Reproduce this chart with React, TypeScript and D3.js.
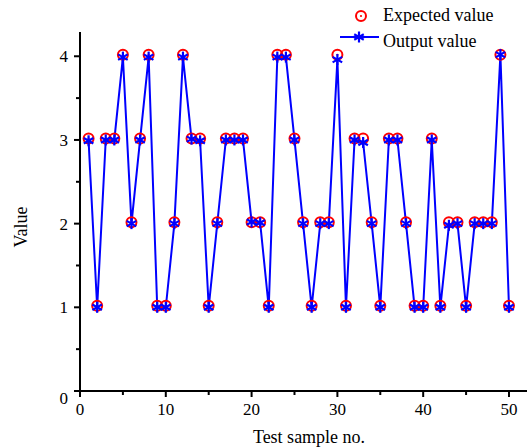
import React from "react";
import * as d3 from "d3";

// sample numbers 1..50
const samples = d3.range(1, 51);

const expected = [
  3, 1, 3, 3, 4, 2, 3, 4, 1, 1,
  2, 4, 3, 3, 1, 2, 3, 3, 3, 2,
  2, 1, 4, 4, 3, 2, 1, 2, 2, 4,
  1, 3, 3, 2, 1, 3, 3, 2, 1, 1,
  3, 1, 2, 2, 1, 2, 2, 2, 4, 1,
];

const output = [
  2.99, 1, 3, 3, 3.99, 2, 3, 3.99, 1, 1,
  2, 3.99, 3.01, 2.99, 1, 2, 3, 3, 3, 2.02,
  2.01, 1, 3.99, 3.99, 3, 2, 1, 2, 2, 3.96,
  1, 3, 2.97, 2, 1, 3, 3, 2, 1, 1,
  3, 1, 1.98, 2, 1, 2, 2, 2, 4.02, 1,
];

const xTicks = [0, 10, 20, 30, 40, 50];
const xMinor = [5, 15, 25, 35, 45];
const yTicks = [0, 1, 2, 3, 4];
const yMinor = [0.5, 1.5, 2.5, 3.5];

const W = 527, H = 448;
const left = 80, right = 527, top = 32, bottom = 391;
const font = "Liberation Serif, Times New Roman, Times, DejaVu Serif, serif";

function Star({ x, y, r = 5.5 }: { x: number; y: number; r?: number }) {
  const dx = r * 0.87, dy = r * 0.5;
  return (
    <g stroke="#0000ff" strokeWidth={2.2}>
      <line x1={x} y1={y - r} x2={x} y2={y + r} />
      <line x1={x - dx} y1={y - dy} x2={x + dx} y2={y + dy} />
      <line x1={x - dx} y1={y + dy} x2={x + dx} y2={y - dy} />
    </g>
  );
}

function Ring({ x, y }: { x: number; y: number }) {
  return (
    <g>
      <circle cx={x} cy={y - 1.5} r={5} fill="none" stroke="#ff0000" strokeWidth={2} />
      <circle cx={x} cy={y - 1.5} r={1.1} fill="#ff0000" />
    </g>
  );
}

export default function App() {
  const x = d3.scaleLinear().domain([0, 52.1]).range([left, right]);
  const y = d3.scaleLinear().domain([0, 4.29]).range([bottom, top]);

  const line = d3
    .line<number>()
    .x((_, i) => x(samples[i]))
    .y((d) => y(d));

  return (
    <svg width={W} height={H} style={{ position: "absolute", left: 0, top: 0 }}>
      <rect width={W} height={H} fill="#fff" />
      {/* axes */}
      <g stroke="#000" strokeWidth={2}>
        <line x1={left} y1={top} x2={left} y2={bottom + 1} />
        <line x1={left - 1} y1={bottom} x2={right} y2={bottom} />
        {xTicks.map((t) => (
          <line key={"xt" + t} x1={x(t)} x2={x(t)} y1={bottom} y2={bottom + 6} />
        ))}
        {xMinor.map((t) => (
          <line key={"xm" + t} x1={x(t)} x2={x(t)} y1={bottom} y2={bottom + 4} />
        ))}
        {yTicks.map((t) => (
          <line key={"yt" + t} x1={left - 6} x2={left} y1={y(t)} y2={y(t)} />
        ))}
        {yMinor.map((t) => (
          <line key={"ym" + t} x1={left - 4} x2={left} y1={y(t)} y2={y(t)} />
        ))}
      </g>
      <g style={{ fontFamily: font, fontSize: 17 }} fill="#000">
        {xTicks.map((t) => (
          <text key={"xl" + t} x={x(t)} y={bottom + 24} textAnchor="middle">
            {t}
          </text>
        ))}
        {yTicks.map((t) => (
          <text
            key={"yl" + t}
            x={left - 12}
            y={y(t) + 6 + (t === 0 ? 7 : 0)}
            textAnchor="end"
          >
            {t}
          </text>
        ))}
      </g>
      <g style={{ fontFamily: font, fontSize: 18 }} fill="#000">
        <text x={309} y={443} textAnchor="middle">
          Test sample no.
        </text>
        <text transform="translate(27,227) rotate(-90)" textAnchor="middle">
          Value
        </text>
      </g>
      {/* output line */}
      <path d={line(output) || ""} fill="none" stroke="#0000ff" strokeWidth={2} />
      {expected.map((v, i) => (
        <Ring key={"e" + i} x={x(samples[i])} y={y(v)} />
      ))}
      {output.map((v, i) => (
        <Star key={"o" + i} x={x(samples[i])} y={y(v)} />
      ))}
      {/* legend */}
      <g style={{ fontFamily: font, fontSize: 18 }} fill="#000">
        <Ring x={361} y={17.5} />
        <text x={383} y={21}>Expected value</text>
        <line x1={340} x2={379} y1={37} y2={37} stroke="#0000ff" strokeWidth={2} />
        <Star x={359} y={37} />
        <text x={383} y={47}>Output value</text>
      </g>
    </svg>
  );
}
